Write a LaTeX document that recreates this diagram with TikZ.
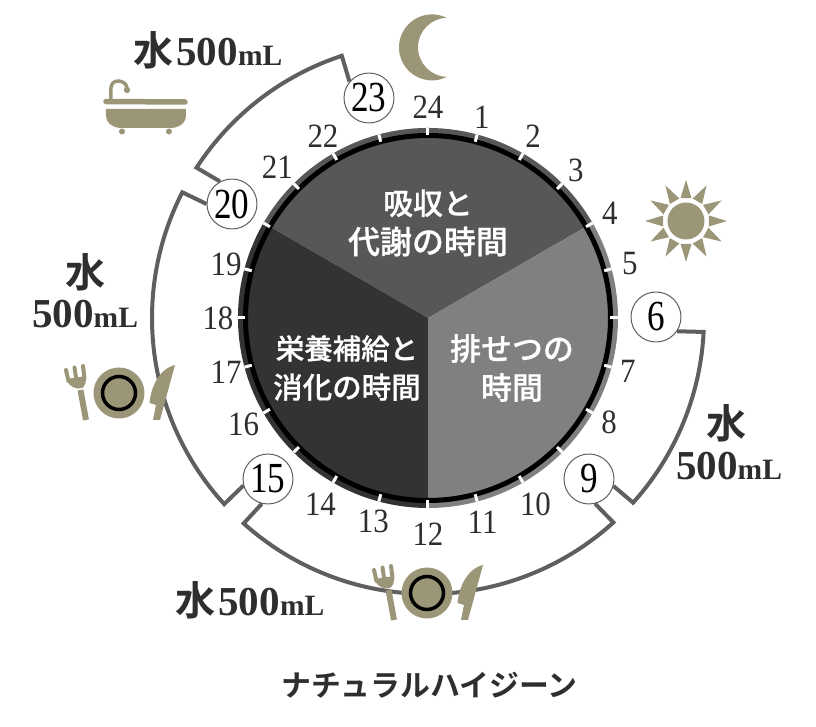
\documentclass[tikz,border=0pt]{standalone}
\usepackage{fontspec}
\setmainfont{Liberation Serif}
\newfontfamily\jpfont[FakeBold=0.6]{Noto Sans CJK JP Medium}
\newfontfamily\jpbold{Noto Sans CJK JP Bold}
\definecolor{khaki}{HTML}{9C9678}
\definecolor{inktext}{HTML}{2E2E2E}
\definecolor{waterline}{HTML}{5F5F5F}
\newcommand{\waterml}{{\fontsize{23.4}{26}\selectfont\bfseries 500\fontsize{16.8}{20}\selectfont mL}}
\newcommand{\waterkanji}{{\jpbold\fontsize{22.8}{26}\selectfont 水}}
\newcommand{\tallnum}[1]{\scalebox{1}[1.22]{#1}}
\newcommand{\hournum}[1]{\scalebox{1}[1.1]{#1}}
\tikzset{
	hourlabel/.style={text=inktext,font=\fontsize{17.6}{20}\selectfont,inner sep=0pt},
	hourcircle/.style={circle,draw=waterline,line width=0.02cm,fill=white,minimum size=1cm,inner sep=0pt,font=\fontsize{20}{22}\selectfont},
	waterpath/.style={draw=waterline,line width=0.08cm,line join=miter},
	waterlabel/.style={text=inktext,inner sep=0pt,align=center},
	phaselabel/.style={text=white,inner sep=0pt,align=center,font=\jpfont\fontsize{17}{22.2}\selectfont},
	cutlery/.pic={
		\fill[khaki] (0,0) circle [radius=25.5];
		\draw[black,line width=0.07cm] (0,0) circle [radius=16.5];
		\draw[khaki,line width=0.12cm] (-33,-27) -- (-38.5,3);
		\draw[khaki,line width=0.08cm,line cap=round] (-53,23) -- (-50.5,12);
		\draw[khaki,line width=0.08cm,line cap=round] (-44.5,25.5) -- (-42.5,12);
		\draw[khaki,line width=0.08cm,line cap=round] (-36,27) -- (-34.5,15);
		\fill[khaki] (-52.5,14) .. controls (-50,6) and (-42,3) .. (-37,5) .. controls (-34,7) and (-32.5,11) .. (-33,17) -- cycle;
		\fill[khaki] (56,28) -- (41,-27) -- (34,-27) -- (37,-12) -- (30.5,-10) .. controls (32,6) and (40,24) .. (56,28) -- cycle;
	}
}
\begin{document}
\begin{tikzpicture}[x=0.02cm,y=0.02cm]
	\useasboundingbox (-428,318) rectangle (388,-409);
	% clock disc
	\fill[black!66] (0,0) -- (30:190) arc [start angle=30,end angle=150,radius=190] -- cycle;
	\fill[black!50] (0,0) -- (-90:190) arc [start angle=-90,end angle=30,radius=190] -- cycle;
	\fill[black!80] (0,0) -- (150:190) arc [start angle=150,end angle=270,radius=190] -- cycle;
	\draw[black,line width=0.1cm] (0,0) circle [radius=182.5];
	\foreach \h in {1,...,24}
		\draw[white,line width=0.06cm] ({90-15*\h}:182.5) -- ({90-15*\h}:190);
	\node[phaselabel] (absorb) at (0,95) {吸収と\\{\fontsize{18.2}{22.2}\selectfont 代謝の時間}};
	\node[phaselabel] (excrete) at (84,-50) {{\fontsize{17.6}{22.2}\selectfont 排せつの}\\{\fontsize{17.6}{22.2}\selectfont 時間}};
	\node[phaselabel] (digest) at (-81,-50) {{\fontsize{16.2}{22.2}\selectfont 栄養補給と}\\{\fontsize{16.8}{22.2}\selectfont 消化の時間}};
	% hour numbers
	\foreach \h/\r in {1/208,2/210,3/209,4/210,5/209,7/207,8/209,10/215,11/211,12/216,13/211,14/215,16/213,17/209,18/210,19/209,21/213,22/210,24/211}
		\node[hourlabel] (h\h) at ({90-15*\h}:\r) {\hournum{\h}};
	\node[hourcircle] (c6) at (228,1) {\tallnum{6}};
	\node[hourcircle] (c9) at (161,-161) {\tallnum{9}};
	\node[hourcircle] (c15) at (-160,-161) {\tallnum{15}};
	\node[hourcircle] (c20) at (-196,114) {\tallnum{20}};
	\node[hourcircle] (c23) at (-59,220) {\tallnum{23}};
	% water intervals
	\coordinate (a23) at (108.2:276);
	\coordinate (a20) at (152.9:276);
	\coordinate (a15) at (228.1:276);
	\coordinate (a9) at (-42:276);
	\draw[waterpath] (c23.140) -- (a23) arc [start angle=108.2,end angle=147,radius=276] -- (c20.118);
	\draw[waterpath] (c20.180) -- (a20) arc [start angle=152.9,end angle=222.4,radius=276] -- (c15.195);
	\draw[waterpath] (c15.256) -- (a15) arc [start angle=228.1,end angle=312.2,radius=276] -- (c9.-76);
	\draw[waterpath] (c9.-16) -- (a9) arc [start angle=-42,end angle=-2.9,radius=276] -- (c6.-34);
	\node[waterlabel,anchor=west] (bathwater) at (-295,268) {\waterkanji\,\waterml};
	\node[waterlabel] (dinnerwater) at (-342,46) {\waterkanji};
	\node[waterlabel] (dinnerml) at (-343,4) {\waterml};
	\node[waterlabel] (wakewater) at (299,-105) {\waterkanji};
	\node[waterlabel] (wakeml) at (301,-148) {\waterml};
	\node[waterlabel,anchor=west] (lunchwater) at (-253,-282) {\waterkanji\,\waterml};
	% moon
	\fill[khaki] (19,300) arc [start angle=63,end angle=297,radius=33] arc [start angle=269,end angle=91,radius=29.5] -- cycle;
	% sun
	\begin{scope}[shift={(258,97)}]
		\fill[khaki] (0,0) circle [radius=18.5];
		\foreach \a in {0,30,...,330}
			\fill[khaki] (\a:41) -- ({\a+13.5}:23.5) -- ({\a-13.5}:23.5) -- cycle;
	\end{scope}
	% bath
	\draw[khaki,line width=0.11cm,line cap=round] (-322,216.5) -- (-243,216);
	\fill[khaki] (-322,209) -- (-242,209) -- (-242,203) .. controls (-242,194) and (-250,190) .. (-258,190) -- (-306,190) .. controls (-314,190) and (-322,194) .. (-322,203) -- cycle;
	\fill[khaki] (-306,186.5) circle [radius=3];
	\fill[khaki] (-259,186.5) circle [radius=3];
	\draw[khaki,line width=0.07cm] (-317,218) -- (-317,230) .. controls (-317,234) and (-314,237) .. (-310,237) .. controls (-305,237) and (-301,234) .. (-301,229);
	\fill[khaki] (-301,228) circle [radius=3.2];
	% meals
	\pic at (-309,-75) {cutlery};
	\pic at (-1,-275) {cutlery};
	\node[text=inktext,inner sep=0pt,font=\jpbold\fontsize{17}{20}\selectfont] (title) at (1.5,-367) {ナチュラルハイジーン};
\end{tikzpicture}
\end{document}
